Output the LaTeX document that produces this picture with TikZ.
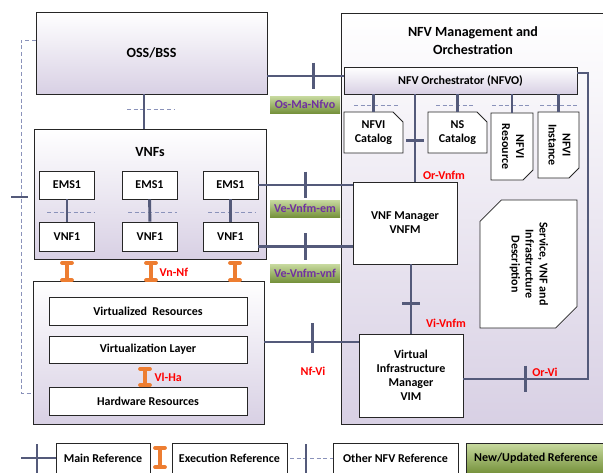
\documentclass[tikz,border=0pt]{standalone}
\usepackage{fontspec}
\setmainfont{Carlito}
\usetikzlibrary{shapes.misc,arrows.meta}
\definecolor{refblue}{RGB}{84,90,122}
\definecolor{dashblue}{RGB}{138,146,186}
\definecolor{lav}{RGB}{216,208,228}
\definecolor{execorange}{RGB}{237,125,49}
\definecolor{labpurple}{RGB}{112,48,160}
\definecolor{grtop}{RGB}{200,218,160}
\definecolor{grbot}{RGB}{118,146,60}
\tikzset{
  sz/.style 2 args={minimum width=#1*0.75pt, minimum height=#2*0.75pt},
  txt/.style={font=\bfseries\fontsize{9}{10.5}\selectfont, align=center},
  box/.style={txt, draw=black!85, fill=white, line width=0.6pt, inner sep=1pt},
  shbox/.style={txt, draw=black!85, line width=0.6pt, top color=white, bottom color=lav, inner sep=1pt},
  snip/.style={box, chamfered rectangle, chamfered rectangle xsep=3.75pt, chamfered rectangle ysep=3.75pt},
  glabel/.style={txt, top color=grtop, bottom color=grbot, text=labpurple, inner sep=0pt},
  rlabel/.style={txt, text=red, inner sep=1pt},
  mainref/.style={draw=refblue, line width=2.2pt},
  execref/.style={draw=execorange, line width=2.8pt, {Bar[width=7.5pt,round]}-{Bar[width=7.5pt,round]}},
  otherref/.style={draw=dashblue, line width=0.75pt, dash pattern=on 3pt off 2pt}
}
\begin{document}
\begin{tikzpicture}[x=0.75pt,y=-0.75pt]
  \useasboundingbox (0,0) rectangle (603,472);
  % containers
  \node[shbox, sz={231}{82}, font=\bfseries\fontsize{10.5}{12}\selectfont] (oss) at (151.5,53) {OSS/BSS};
  \node[shbox, sz={232}{130}] (vnfs) at (150,194) {};
  \node[txt, font=\bfseries\fontsize{10.5}{12}\selectfont] (vnfstitle) at (150,152) {VNFs};
  \node[shbox, sz={231}{143}] (nfvi) at (148.5,352.5) {};
  \node[shbox, sz={269}{411}] (mano) at (475.5,218.5) {};
  \node[txt, font=\bfseries\fontsize{10.5}{13.5}\selectfont] (manotitle) at (473,41) {NFV Management and\\Orchestration};
  % VNFs
  \node[box, sz={55}{28}] (emsa) at (67,185) {EMS1};
  \node[box, sz={55}{28}] (emsb) at (149.5,185) {EMS1};
  \node[box, sz={55}{28}] (emsc) at (230.5,185) {EMS1};
  \node[box, sz={55}{29}] (vnfa) at (67,236.5) {VNF1};
  \node[box, sz={55}{29}] (vnfb) at (150,236.5) {VNF1};
  \node[box, sz={55}{29}] (vnfc) at (230.5,236.5) {VNF1};
  % NFVI
  \node[box, sz={198}{28}] (virtres) at (148,311) {Virtualized\ \ Resources};
  \node[box, sz={198}{27}] (virtlayer) at (148,349.5) {Virtualization Layer};
  \node[box, sz={198}{28}] (hwres) at (148,401) {Hardware Resources};
  % MANO
  \node[shbox, sz={233}{27}] (nfvo) at (460.5,80.5) {NFV Orchestrator (NFVO)};
  \node[snip, sz={59}{41}, chamfered rectangle corners=north east] (nfvicat) at (373.5,132.5) {NFVI\\Catalog};
  \node[snip, sz={59}{41}, chamfered rectangle corners=north east] (nscat) at (457.5,132.5) {NS\\Catalog};
  \node[snip, sz={42}{67}, chamfered rectangle corners=south east] (nfvires) at (512,146.5)
    {\rotatebox{-90}{\begin{tabular}{@{}c@{}}NFVI\\Resource\end{tabular}}};
  \node[snip, sz={41}{66}, chamfered rectangle corners=south east] (nfviinst) at (558.5,145)
    {\rotatebox{-90}{\begin{tabular}{@{}c@{}}NFVI\\Instance\end{tabular}}};
  \node[box, sz={104}{82}] (vnfm) at (405,223) {VNF Manager\\VNFM};
  \node[snip, sz={97}{128}, chamfered rectangle corners={north west,south east}, chamfered rectangle xsep=8pt, chamfered rectangle ysep=8pt] (desc) at (528.5,264)
    {\rotatebox{-90}{\begin{tabular}{@{}c@{}}Service, VNF and\\Infrastructure\\Description\end{tabular}}};
  \node[box, sz={104}{83}] (vim) at (411,375.5) {Virtual\\Infrastructure\\Manager\\VIM};
  % other references (dashed)
  \draw[otherref] (oss.west |- 0,40) -| (21,393) -- (nfvi.west |- 0,393);
  \draw[mainref] (11,197) -- (28,197);
  \draw[otherref] (127,109) -- (175,109);
  \foreach \xa/\xb in {47/94,128/177,208/255}
    \draw[otherref] (\xa,212) -- (\xb,212);
  \foreach \xa/\xb in {354/399,436/473,492/530,540/578}
    \draw[otherref] (\xa,105) -- (\xb,105);
  % main references
  \draw[mainref] (oss.south -| 144,0) -- (vnfs.north -| 144,0);
  \draw[mainref] (emsa) -- (vnfa);
  \draw[mainref] (emsb) -- (vnfb);
  \draw[mainref] (emsc) -- (vnfc);
  \draw[mainref] (nfvo.south -| nfvicat.north) -- (nfvicat.north);
  \draw[mainref] (nfvo.south -| nscat.north) -- (nscat.north);
  \draw[mainref] (nfvo.south -| nfvires.north) -- (nfvires.north);
  \draw[mainref] (nfvo.south -| nfviinst.north) -- (nfviinst.north);
  \draw[mainref] (oss.east |- 0,76) -- coordinate[pos=0.6](osma) (nfvo.west |- 0,76);
  \draw[mainref] ([yshift=10pt]osma) -- ([yshift=-10pt]osma);
  \draw[mainref] (emsc.east) -- coordinate[pos=0.5](veem) (emsc.east -| vnfm.west);
  \draw[mainref] ([yshift=10pt]veem) -- ([yshift=-10pt]veem);
  \draw[mainref] ([yshift=-7.5pt]vnfc.east) -- coordinate[pos=0.5](vevnf) ([yshift=-7.5pt]vnfc.east -| vnfm.west);
  \draw[mainref] ([yshift=10pt]vevnf) -- ([yshift=-10pt]vevnf);
  \draw[mainref] (nfvo.south -| 415,0) -- coordinate[pos=0.53](orvnfm) (vnfm.north -| 415,0);
  \draw[mainref] ([xshift=-6.75pt]orvnfm) -- ([xshift=6.75pt]orvnfm);
  \draw[mainref] (vnfm.south -| vim.north) -- coordinate[pos=0.57](vivnfm) (vim.north);
  \draw[mainref] ([xshift=-6.75pt]vivnfm) -- ([xshift=6.75pt]vivnfm);
  \draw[mainref] (nfvi.east |- 0,342) -- coordinate[pos=0.51](nfvitick) (vim.west |- 0,342);
  \draw[mainref] ([yshift=14pt]nfvitick) -- ([yshift=-8.5pt]nfvitick);
  \draw[mainref] (nfvo.east |- 0,73) -| (588,379) -- coordinate[pos=0.5](orvi) (vim.east |- 0,379);
  \draw[mainref] ([yshift=10pt]orvi) -- ([yshift=-10pt]orvi);
  % execution references
  \draw[execref] (vnfa.south |- 0,261) -- (vnfa.south |- 0,282);
  \draw[execref] (151,261) -- (151,282);
  \draw[execref] (235,261) -- (235,282);
  \draw[execref] (145,367) -- (145,387);
  % labels
  \node[glabel, sz={70}{17}] (lbosma) at (305,104.5) {Os-Ma-Nfvo};
  \node[glabel, sz={70}{17}] (lbveem) at (305,208.5) {Ve-Vnfm-em};
  \node[glabel, sz={70}{18}] (lbvevnf) at (305,273) {Ve-Vnfm-vnf};
  \node[rlabel, anchor=west] (lbvnnf) at (158,272) {Vn-Nf};
  \node[rlabel, anchor=west] (lbvlha) at (153,377) {Vl-Ha};
  \node[rlabel] (lbnfvi) at (313,371) {Nf-Vi};
  \node[rlabel] (lborvnfm) at (444,175) {Or-Vnfm};
  \node[rlabel] (lbvivnfm) at (446,323) {Vi-Vnfm};
  \node[rlabel] (lborvi) at (545,372) {Or-Vi};
  % legend
  \node[box, sz={94}{30}] (mainleg) at (103,458) {Main Reference};
  \node[box, sz={115}{30}] (execleg) at (229.5,458) {Execution Reference};
  \node[box, sz={125}{30}] (otherleg) at (395.5,458) {Other NFV Reference};
  \node[glabel, draw=black!85, line width=0.6pt, text=black, sz={140}{30}] (newleg) at (536,458) {New/Updated Reference};
  \draw[mainref] (21,458) -- (mainleg.west |- 0,458);
  \draw[mainref] (37,444) -- (37,478);
  \draw[execref] (160,446) -- (160,469);
  \draw[otherref] (290,458) -- (otherleg.west);
  \draw[mainref] (306,444) -- (306,478);
\end{tikzpicture}
\end{document}
